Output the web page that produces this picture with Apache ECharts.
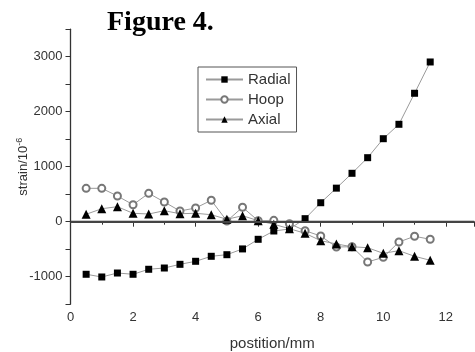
<!DOCTYPE html>
<html><head><meta charset="utf-8">
<script src="https://cdn.jsdelivr.net/npm/echarts@6/dist/echarts.min.js"></script>
<style>html,body{margin:0;padding:0;background:#fff}#c{width:475px;height:352px}</style>
</head><body><div id="c"></div>
<script>
const positions = [0.5,1,1.5,2,2.5,3,3.5,4,4.5,5,5.5,6,6.5,7,7.5,8,8.5,9,9.5,10,10.5,11,11.5];
const radial = [-956,-1005,-933,-956,-865,-842,-775,-720,-629,-600,-495,-320,-169,-133,55,345,610,880,1164,1509,1771,2335,2904];
const hoop = [607,607,467,309,516,358,195,249,389,13,262,18,25,-36,-164,-260,-460,-455,-733,-647,-369,-265,-320];
const axial = [135,236,273,153,140,200,145,153,127,44,109,18,-47,-127,-211,-345,-405,-455,-473,-575,-527,-629,-702];
const xTicks = [0,2,4,6,8,10,12];
const yTicks = [-1000,0,1000,2000,3000];

const pair = arr => positions.map((x,i)=>[x,arr[i]]);
const chart = echarts.init(document.getElementById('c'));
const lineGray = {color:'#9a9a9a', width:1};
chart.setOption({
  animation:false,
  title:{text:'Figure 4.', left:102, top:4, textStyle:{fontFamily:'Liberation Serif', fontWeight:'bold', fontSize:28, color:'#000'}},
  legend:{
    left:198, top:67, orient:'vertical', itemGap:5, padding:[5,6,5,7],
    borderColor:'#555', borderWidth:1, backgroundColor:'#fff',
    itemWidth:37, itemHeight:8,
    textStyle:{fontFamily:'Liberation Sans', fontSize:15, color:'#333'},
    data:['Radial','Hoop','Axial']
  },
  grid:{left:70.5, right:1, top:29.2, bottom:47.8, containLabel:false, outerBoundsMode:'none'},
  xAxis:{
    type:'value', min:0, max:12.9, interval:2,
    name:'postition/mm', nameLocation:'middle', nameGap:32, nameMoveOverlap:false,
    nameTextStyle:{fontFamily:'Liberation Sans', fontSize:15, color:'#333'},
    axisLine:{lineStyle:{color:'#333', width:1.3}},
    axisTick:{length:5, lineStyle:{color:'#333'}},
    minorTick:{show:true, splitNumber:2, length:3, lineStyle:{color:'#333'}},
    splitLine:{show:false},
    axisLabel:{fontFamily:'Liberation Sans', fontSize:13, color:'#333', margin:7,
      formatter:v=>xTicks.includes(v)?String(v):''}
  },
  yAxis:{
    type:'value', min:-1500, max:3500, interval:500,
    name:'{a|strain/10}{s|-6}', nameLocation:'middle', nameGap:39, nameMoveOverlap:false,
    nameTextStyle:{rich:{a:{fontFamily:'Liberation Sans', fontSize:13, color:'#333'}, s:{fontFamily:'Liberation Sans', fontSize:9, color:'#333', verticalAlign:'top', padding:[0,0,7,0]}}},
    axisLine:{show:true, lineStyle:{color:'#333', width:1.3}},
    axisTick:{length:5, lineStyle:{color:'#333'}, interval:0},
    splitLine:{show:false},
    axisLabel:{fontFamily:'Liberation Sans', fontSize:13, color:'#333', margin:8,
      formatter:v=>yTicks.includes(v)?String(v):''}
  },
  series:[
    {name:'Radial', type:'line', data:pair(radial), symbol:'rect', symbolSize:7,
     lineStyle:lineGray, itemStyle:{color:'#000'},
     markLine:{silent:true, symbol:'none', label:{show:false}, lineStyle:{color:'#444', width:2, type:'solid'}, data:[{yAxis:0}]}},
    {name:'Hoop', type:'line', data:pair(hoop), symbol:'emptyCircle', symbolSize:7,
     lineStyle:lineGray, itemStyle:{color:'#777', borderColor:'#777', borderWidth:1}},
    {name:'Axial', type:'line', data:pair(axial), symbol:'triangle', symbolSize:9,
     lineStyle:lineGray, itemStyle:{color:'#000'}}
  ]
});
</script></body></html>
